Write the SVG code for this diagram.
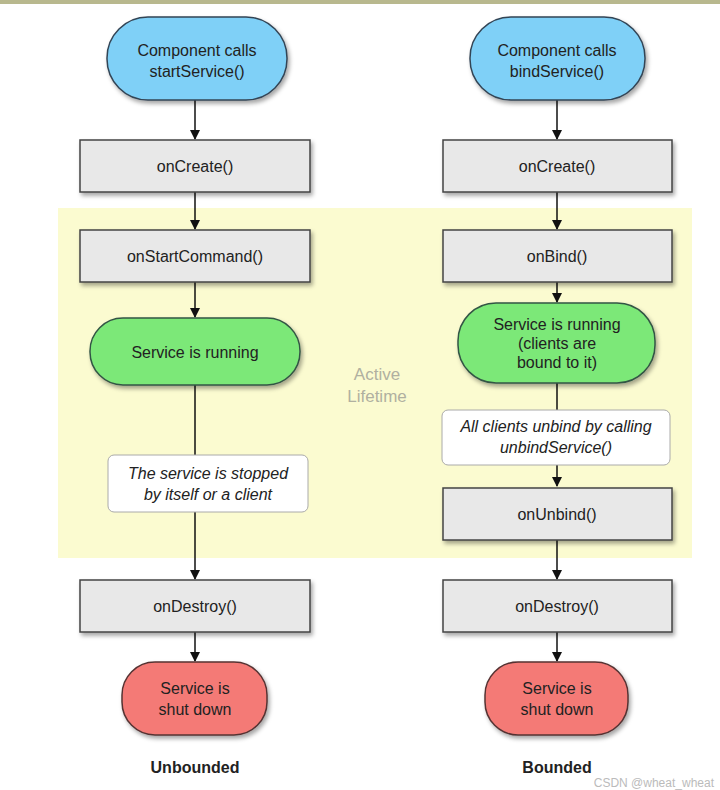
<svg xmlns="http://www.w3.org/2000/svg" width="720" height="790" viewBox="0 0 720 790">
<defs>
<marker id="ah" markerWidth="10" markerHeight="10" refX="9" refY="5" orient="auto" markerUnits="userSpaceOnUse"><path d="M0,0 L10,5 L0,10 z" fill="#111"/></marker>
<filter id="sh" x="-10%" y="-10%" width="130%" height="140%"><feDropShadow dx="2" dy="3" stdDeviation="2" flood-opacity="0.35"/></filter>
</defs>
<style>
text{font-family:"Liberation Sans",Arial,sans-serif;font-size:16px;text-anchor:middle;fill:#222}
.box{fill:#e8e8e8;stroke:#444;stroke-width:1.5;filter:url(#sh)}
.blue{fill:#7fd0f7;stroke:#345;stroke-width:1.5;filter:url(#sh)}
.green{fill:#7ce878;stroke:#354;stroke-width:1.5;filter:url(#sh)}
.red{fill:#f47a76;stroke:#533;stroke-width:1.5;filter:url(#sh)}
.note{fill:#fff;stroke:#aaa;stroke-width:1}
.it{font-style:italic}
.c line{stroke:#111;stroke-width:1.5}
.b{font-weight:bold}
.al{fill:#b0b0a0;font-size:17px}
</style>
<rect x="0" y="0" width="720" height="790" fill="#fff"/>
<rect x="0" y="0" width="720" height="4" fill="#b8b88e"/>
<rect id="active" x="58" y="208" width="634" height="350" fill="#fbfbd0"/>
<text class="al" x="377" y="380">Active</text>
<text class="al" x="377" y="402">Lifetime</text>
<g class="c">
<line x1="195" y1="100" x2="195" y2="139" marker-end="url(#ah)"/>
<line x1="195" y1="192" x2="195" y2="229" marker-end="url(#ah)"/>
<line x1="195" y1="282" x2="195" y2="317" marker-end="url(#ah)"/>
<line x1="195" y1="385" x2="195" y2="455"/>
<line x1="195" y1="512" x2="195" y2="579" marker-end="url(#ah)"/>
<line x1="195" y1="632" x2="195" y2="661" marker-end="url(#ah)"/>
<line x1="557" y1="100" x2="557" y2="139" marker-end="url(#ah)"/>
<line x1="557" y1="192" x2="557" y2="229" marker-end="url(#ah)"/>
<line x1="557" y1="282" x2="557" y2="302" marker-end="url(#ah)"/>
<line x1="557" y1="383" x2="557" y2="410"/>
<line x1="557" y1="465" x2="557" y2="486" marker-end="url(#ah)"/>
<line x1="557" y1="540" x2="557" y2="579" marker-end="url(#ah)"/>
<line x1="557" y1="632" x2="557" y2="661" marker-end="url(#ah)"/>
</g>
<g id="startL"><rect class="blue" x="107" y="17" width="180" height="83" rx="41"/><text x="197" y="56">Component calls</text><text x="197" y="77">startService()</text></g>
<g id="createL"><rect class="box" x="80" y="140" width="230" height="52"/><text x="195" y="172">onCreate()</text></g>
<g id="startCmd"><rect class="box" x="80" y="230" width="230" height="52"/><text x="195" y="262">onStartCommand()</text></g>
<g id="runL"><rect class="green" x="90" y="318" width="210" height="67" rx="33"/><text x="195" y="358">Service is running</text></g>
<g id="noteL"><rect class="note" x="108" y="455" width="200" height="57" rx="6"/><text class="it" x="208" y="479">The service is stopped</text><text class="it" x="208" y="500">by itself or a client</text></g>
<g id="destroyL"><rect class="box" x="80" y="580" width="230" height="52"/><text x="195" y="612">onDestroy()</text></g>
<g id="downL"><rect class="red" x="122" y="662" width="145" height="73" rx="33"/><text x="195" y="694">Service is</text><text x="195" y="715">shut down</text></g>
<g id="startR"><rect class="blue" x="470" y="17" width="175" height="83" rx="41"/><text x="557" y="56">Component calls</text><text x="557" y="77">bindService()</text></g>
<g id="createR"><rect class="box" x="443" y="140" width="229" height="52"/><text x="557" y="172">onCreate()</text></g>
<g id="bind"><rect class="box" x="443" y="230" width="229" height="52"/><text x="557" y="262">onBind()</text></g>
<g id="runR"><rect class="green" x="458" y="303" width="197" height="80" rx="38"/><text x="557" y="330">Service is running</text><text x="557" y="349">(clients are</text><text x="557" y="368">bound to it)</text></g>
<g id="noteR"><rect class="note" x="442" y="410" width="228" height="55" rx="6"/><text class="it" x="556" y="432">All clients unbind by calling</text><text class="it" x="556" y="453">unbindService()</text></g>
<g id="unbind"><rect class="box" x="443" y="488" width="229" height="52"/><text x="557" y="520">onUnbind()</text></g>
<g id="destroyR"><rect class="box" x="443" y="580" width="229" height="52"/><text x="557" y="612">onDestroy()</text></g>
<g id="downR"><rect class="red" x="485" y="662" width="143" height="73" rx="33"/><text x="557" y="694">Service is</text><text x="557" y="715">shut down</text></g>
<text class="b" x="195" y="773">Unbounded</text>
<text class="b" x="557" y="773">Bounded</text>
<text x="714" y="787" style="fill:#bbb;font-size:12px;text-anchor:end">CSDN @wheat_wheat</text>
</svg>
